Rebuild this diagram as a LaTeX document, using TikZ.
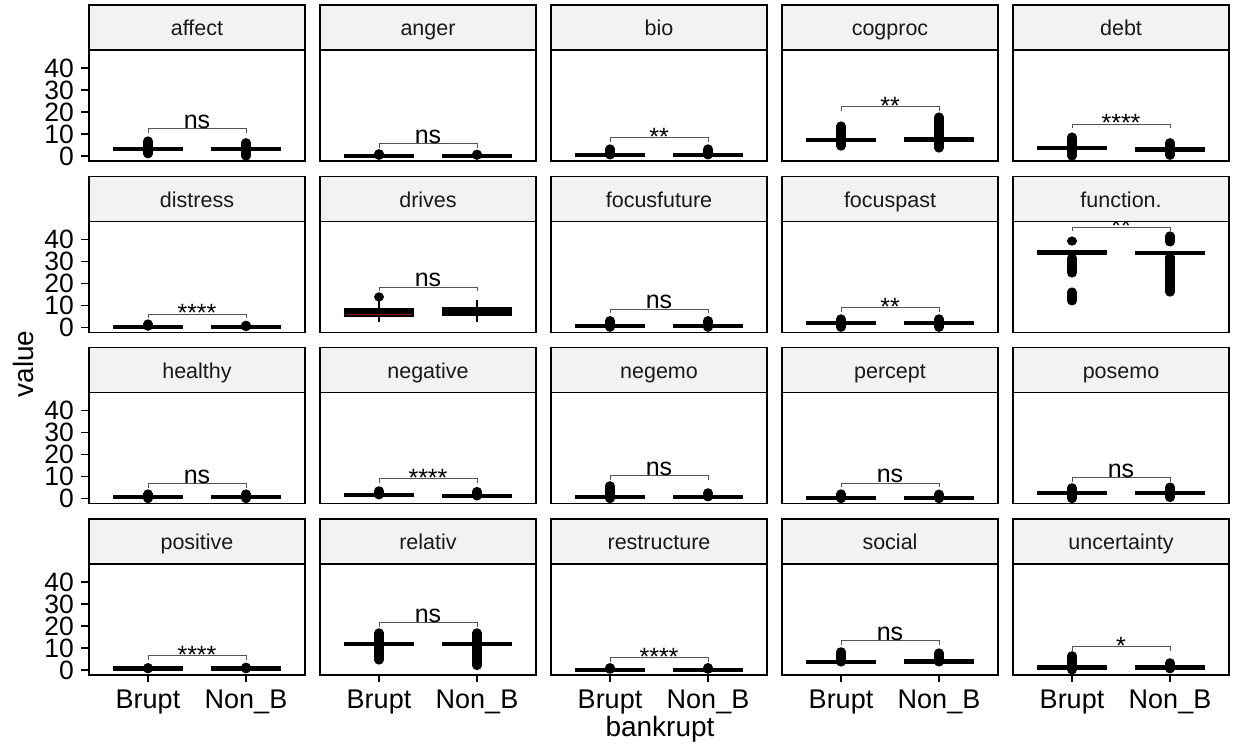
\documentclass[tikz,border=0pt]{standalone}
\usepackage{fontspec}
\setmainfont{Liberation Sans}
\definecolor{stripgray}{HTML}{F2F2F2}
\definecolor{brackgray}{HTML}{555555}
\definecolor{medred}{HTML}{8B1A1A}
\tikzset{
	frameline/.style={draw=black, line width=1.3pt},
	stripbox/.style={fill=stripgray, draw=black, line width=1.3pt},
	striptext/.style={anchor=base, inner sep=0pt, text=black!90, font=\fontsize{21.5}{21.5}\selectfont},
	medline/.style={line width=4.6pt},
	outdot/.style={line width=9.2pt, line cap=round},
	whisk/.style={line width=2.2pt},
	bracketline/.style={draw=brackgray, line width=0.9pt},
	siglabel/.style={anchor=base, inner sep=0pt, font=\fontsize{25}{25}\selectfont},
	ticklab/.style={anchor=east, inner sep=0pt, font=\fontsize{26.5}{26.5}\selectfont},
	xlab/.style={anchor=base, inner sep=0pt, font=\fontsize{27}{27}\selectfont},
	axtitle/.style={anchor=base, inner sep=0pt, font=\fontsize{28}{28}\selectfont},
	tickline/.style={line width=1.5pt},
}
\newcommand{\xb}{59}
\newcommand{\xn}{157}
% one facet: column, row, title, content (data in value units)
\newcommand{\facet}[4]{%
	\begin{scope}[shift={({89+231*#1},{590-171.3*#2})}]
		\def\fid{#1#2}
		\draw[stripbox] (0,111) rectangle (216,156);
		\node[striptext] (strip\fid) at (108,125) {#3};
		\begin{scope}
			\clip (0,0) rectangle (216,111);
			\begin{scope}[y=2.2pt, yshift=5pt]
				#4
			\end{scope}
		\end{scope}
		\draw[frameline] (0,0) rectangle (216,111);
	\end{scope}}
\newcommand{\outl}[3]{\draw[outdot] (#1,#2) -- (#1,{#3+0.02});}
\newcommand{\med}[2]{\draw[medline] ({#1-35},#2) -- ({#1+35},#2);}
\newcommand{\sig}[3][0.3]{%
	\draw[bracketline] (\xb,{#2-1.7}) -- (\xb,#2) -- (\xn,#2) -- (\xn,{#2-1.7});
	\node[siglabel] (sig\fid) at (108,{#2+#1}) {#3};}

\begin{document}
\begin{tikzpicture}[x=1pt, y=1pt]
	\useasboundingbox (0,0) rectangle (1233,751);
	% row 1
	\facet{0}{0}{affect}{\outl{\xb}{1}{6.8}\outl{\xn}{0}{6}\med{\xb}{3.2}\med{\xn}{3.2}\sig{12.3}{ns}}
	\facet{1}{0}{anger}{\outl{\xb}{0.3}{1}\outl{\xn}{0.3}{0.8}\med{\xb}{0}\med{\xn}{0}\sig{5.5}{ns}}
	\facet{2}{0}{bio}{\outl{\xb}{0.5}{3.2}\outl{\xn}{0.5}{3.2}\med{\xb}{0.5}\med{\xn}{0.5}\sig[-3.5]{8.2}{**}}
	\facet{3}{0}{cogproc}{\outl{\xb}{4.5}{13.6}\outl{\xn}{3.6}{17.7}\med{\xb}{7.3}\med{\xn}{7.6}\sig[-3.5]{22.3}{**}}
	\facet{4}{0}{debt}{\outl{\xb}{0}{8.6}\outl{\xn}{0.3}{6}\med{\xb}{3.6}\med{\xn}{2.9}\sig[-3.5]{14.5}{****}}
	% row 2
	\facet{0}{1}{distress}{\outl{\xb}{0.5}{1.5}\outl{\xn}{0.3}{0.9}\med{\xb}{0.1}\med{\xn}{0.1}\sig[-3.5]{6}{****}}
	\facet{1}{1}{drives}{
		\draw[whisk] (\xb,2.5) -- (\xb,12.5);
		\draw[whisk] (\xn,2.5) -- (\xn,12.4);
		\fill ({\xb-35},4.7) rectangle ({\xb+35},8.8);
		\fill ({\xn-35},5) rectangle ({\xn+35},9.2);
		\draw[medred, line width=1pt] ({\xb-33},6) -- ({\xb+33},6);
		\outl{\xb}{13.8}{13.8}
		\sig{18.3}{ns}}
	\facet{2}{1}{focusfuture}{\outl{\xb}{0}{3}\outl{\xn}{0}{3}\med{\xb}{0.6}\med{\xn}{0.6}\sig{8.3}{ns}}
	\facet{3}{1}{focuspast}{\outl{\xb}{0}{3.8}\outl{\xn}{0}{3.8}\med{\xb}{1.9}\med{\xn}{1.9}\sig[-3.5]{8.8}{**}}
	\facet{4}{1}{function.}{
		\outl{\xb}{39.2}{39.2}\outl{\xb}{24.7}{31.5}\outl{\xb}{12}{16}
		\outl{\xn}{38.8}{41.5}\outl{\xn}{16}{32}
		\med{\xb}{34.1}\med{\xn}{33.8}\sig[-3.5]{45.5}{**}}
	% row 3
	\facet{0}{2}{healthy}{\outl{\xb}{0}{2.1}\outl{\xn}{0}{2.1}\med{\xb}{0.8}\med{\xn}{0.8}\sig{6.7}{ns}}
	\facet{1}{2}{negative}{\outl{\xb}{1.7}{3.5}\outl{\xn}{1.2}{3.2}\med{\xb}{1.7}\med{\xn}{1.2}\sig[-3.5]{9}{****}}
	\facet{2}{2}{negemo}{\outl{\xb}{0}{5.8}\outl{\xn}{0.8}{2.6}\med{\xb}{0.8}\med{\xn}{0.8}\sig{10.3}{ns}}
	\facet{3}{2}{percept}{\outl{\xb}{0}{2.1}\outl{\xn}{0}{2}\med{\xb}{0.3}\med{\xn}{0.3}\sig{7.1}{ns}}
	\facet{4}{2}{posemo}{\outl{\xb}{0}{4.9}\outl{\xn}{0.5}{5.2}\med{\xb}{2.6}\med{\xn}{2.6}\sig{9.4}{ns}}
	% row 4
	\facet{0}{3}{positive}{\outl{\xb}{0.5}{1}\outl{\xn}{0.5}{1.2}\med{\xb}{0.5}\med{\xn}{0.5}\sig[-3.5]{6.4}{****}}
	\facet{1}{3}{relativ}{\outl{\xb}{4.5}{16.8}\outl{\xn}{2}{16.8}\med{\xb}{11.8}\med{\xn}{11.8}\sig{21.4}{ns}}
	\facet{2}{3}{restructure}{\outl{\xb}{0.3}{1}\outl{\xn}{0.3}{1}\med{\xb}{0}\med{\xn}{0}\sig[-3.5]{5.5}{****}}
	\facet{3}{3}{social}{\outl{\xb}{3.6}{8.2}\outl{\xn}{3.6}{7.7}\med{\xb}{3.6}\med{\xn}{3.7}\sig{13.2}{ns}}
	\facet{4}{3}{uncertainty}{\outl{\xb}{0}{6.4}\outl{\xn}{0.5}{3.2}\med{\xb}{1}\med{\xn}{1}\sig[-3.5]{10.5}{*}}
	% y axis of the first column
	\foreach \r in {0,...,3}{
		\foreach \v in {0,10,...,40}{
			\draw[tickline] (81,{595-171.3*\r+2.2*\v}) -- (89,{595-171.3*\r+2.2*\v});
			\node[ticklab] (y\r-\v) at (74,{595-171.3*\r+2.2*\v}) {\v};
		}
	}
	% x axis of the last row
	\foreach \c in {0,...,4}{
		\foreach \x/\lab in {59/Brupt,157/Non\_B}{
			\draw[tickline] ({89+231*\c+\x},76) -- ({89+231*\c+\x},69);
			\node[xlab] (x\c-\x) at ({89+231*\c+\x},42) {\lab};
		}
	}
	\node[axtitle] (xtitle) at (660,14) {bankrupt};
	\node[axtitle, rotate=90] (ytitle) at (33,387) {value};
\end{tikzpicture}
\end{document}
